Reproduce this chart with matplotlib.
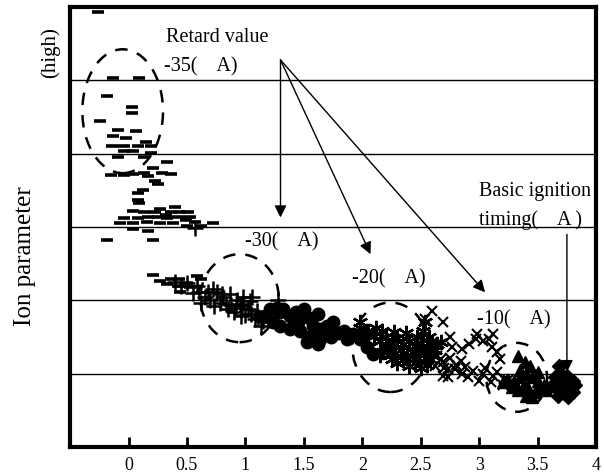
import matplotlib.pyplot as plt
from matplotlib.patches import Ellipse

plt.rcParams['font.family'] = ['Liberation Serif', 'DejaVu Serif']

# retard -35 (dash markers)
dash_x = [-0.26, -0.13, 0.09, -0.18, 0.03, 0.03, -0.24, -0.09, 0.06, -0.13, -0.02, 0.15,
          -0.14, -0.04, 0.08, 0.19, -0.04, 0.04, 0.19, -0.09, 0.13, 0.33, -0.15, -0.04,
          0.04, 0.13, 0.21, 0.29, 0.36, 0.17, 0.23, 0.25, 0.12, 0.08, 0.08, 0.09, 0.04,
          0.13, 0.27, 0.36, 0.44, 0.51, -0.04, 0.08, 0.17, 0.25, 0.33, 0.42, 0.53, -0.07,
          0.04, 0.16, 0.27, 0.38, 0.50, 0.62, 0.72, 0.04, 0.17, -0.18, 0.21, 0.32, 0.49,
          0.57, 0.40, 0.23,
          0.21, 0.27, 0.36, 0.43, 0.33, 0.42, 0.50, 0.59, 0.62, 0.44, 0.53]
dash_y = [5.93, 5.03, 5.03, 4.79, 4.64, 4.56, 4.44, 4.33, 4.31, 4.24, 4.22, 4.16,
          4.11, 4.10, 4.10, 4.11, 4.04, 4.04, 4.01, 3.96, 3.96, 3.89, 3.71, 3.71,
          3.73, 3.74, 3.80, 3.74, 3.73, 3.69, 3.63, 3.59, 3.50, 3.47, 3.37, 3.33, 3.22,
          3.21, 3.25, 3.21, 3.21, 3.20, 3.13, 3.13, 3.14, 3.14, 3.13, 3.14, 3.14, 3.06,
          3.06, 3.07, 3.06, 3.05, 3.02, 3.02, 3.05, 2.98, 2.94, 2.83, 2.82, 3.17, 3.10,
          3.07, 3.27, 3.20,
          2.34, 2.26, 2.29, 2.29, 2.22, 2.19, 2.24, 2.33, 2.29, 2.12, 2.18]

# retard -30 (plus markers)
plus_x = [0.50, 0.59, 0.68, 0.76, 0.81, 0.87, 0.93, 0.98, 1.04, 1.06, 1.02, 0.96, 1.11,
          1.13, 0.62, 0.73, 0.85, 0.90, 1.28, 0.57, 0.55, 0.65, 0.70, 0.78, 0.83, 0.88,
          0.92, 0.97, 1.00, 1.05, 1.08, 0.45, 0.40, 0.72, 0.95, 1.10, 1.15, 0.60, 0.80]
plus_y = [2.24, 2.19, 2.11, 2.12, 2.05, 2.08, 2.01, 2.04, 1.99, 2.05, 1.88, 1.78, 1.77,
          1.65, 1.97, 1.92, 1.88, 1.84, 2.01, 2.99, 2.10, 2.05, 2.00, 1.97, 1.95, 1.93,
          1.90, 1.92, 1.80, 1.82, 1.75, 2.20, 2.25, 2.15, 1.95, 1.85, 1.72, 2.12, 2.08]

# retard -25 (circles)
circ_x = [1.21, 1.27, 1.30, 1.32, 1.15, 1.24, 1.30, 1.38, 1.43, 1.50, 1.53, 1.45, 1.62,
          1.58, 1.64, 1.70, 1.75, 1.79, 1.84, 1.90, 1.87, 1.47, 1.38, 1.56, 1.64, 1.73,
          1.53, 1.62, 2.09, 2.04, 1.98, 1.92]
circ_y = [1.88, 1.90, 1.84, 1.88, 1.77, 1.70, 1.65, 1.78, 1.84, 1.88, 1.77, 1.70, 1.81,
          1.65, 1.61, 1.65, 1.70, 1.56, 1.58, 1.51, 1.47, 1.58, 1.61, 1.51, 1.47, 1.50,
          1.43, 1.40, 1.27, 1.37, 1.47, 1.54]

# retard -20 (asterisks)
ast_x = [1.98, 2.17, 2.03, 2.52, 2.54, 2.64, 2.67, 2.15, 2.20, 2.25, 2.30, 2.35, 2.40,
         2.45, 2.50, 2.55, 2.60, 2.18, 2.23, 2.28, 2.33, 2.38, 2.43, 2.48, 2.53, 2.58,
         2.25, 2.30, 2.35, 2.40, 2.45, 2.50, 2.55, 2.60, 2.20, 2.10, 2.05, 2.12, 1.98,
         2.00, 2.15, 2.62, 2.57, 2.47, 2.37, 2.27]
ast_y = [1.71, 1.58, 1.54, 1.58, 1.70, 1.40, 1.43, 1.45, 1.50, 1.42, 1.48, 1.40, 1.45,
         1.38, 1.42, 1.35, 1.40, 1.30, 1.35, 1.28, 1.32, 1.25, 1.30, 1.22, 1.28, 1.20,
         1.20, 1.15, 1.18, 1.10, 1.15, 1.08, 1.12, 1.25, 1.38, 1.52, 1.58, 1.62, 1.62,
         1.55, 1.25, 1.32, 1.50, 1.50, 1.55, 1.57]

# retard -15 (crosses)
cross_x = [2.60, 2.54, 2.69, 2.75, 2.77, 2.85, 2.91, 2.97, 2.98, 3.03, 3.08, 3.12, 3.11,
           3.15, 3.18, 2.67, 2.69, 2.75, 2.84, 2.73, 2.79, 2.88, 2.95, 3.03, 3.12, 3.21,
           2.52, 2.58, 2.64, 2.69, 2.73, 3.00, 3.10, 3.20, 3.25, 2.85, 2.90, 3.15, 3.05,
           2.80, 2.70, 2.62]
cross_y = [1.86, 1.74, 1.71, 1.50, 1.36, 1.33, 1.40, 1.47, 1.54, 1.44, 1.47, 1.54, 1.36,
           1.29, 1.20, 1.20, 1.16, 1.22, 1.17, 0.95, 1.06, 1.09, 1.03, 0.99, 0.97, 0.93,
           1.31, 1.29, 1.24, 0.97, 1.06, 0.90, 0.88, 0.85, 0.92, 1.00, 0.95, 1.02, 1.08,
           1.12, 1.08, 1.10]

# retard -10 (triangles)
tri_x = [3.33, 3.39, 3.35, 3.40, 3.45, 3.50, 3.55, 3.30, 3.38, 3.42, 3.48, 3.52, 3.33,
         3.40, 3.45, 3.35, 3.25, 3.20, 3.57, 3.50, 3.43, 3.28]
tri_y = [1.24, 1.16, 1.05, 1.00, 0.95, 0.90, 0.85, 0.90, 0.85, 0.80, 0.75, 0.80, 0.78,
         0.70, 0.68, 0.95, 0.92, 0.88, 0.78, 1.02, 1.10, 0.82]

# basic ignition timing (diamonds)
dia_x = [3.68, 3.65, 3.70, 3.75, 3.80, 3.72, 3.78, 3.68, 3.63, 3.73, 3.80, 3.67, 3.76,
         3.82, 3.60, 3.70]
dia_y = [1.10, 0.95, 0.92, 0.97, 0.90, 0.85, 0.80, 0.78, 0.85, 0.72, 0.75, 0.70, 0.68,
         0.84, 0.80, 1.00]

xticks = [0, 0.5, 1, 1.5, 2, 2.5, 3, 3.5, 4]
xtick_labels = ['0', '0.5', '1', '1.5', '2', '2.5', '3', '3.5', '4']

fig = plt.figure(figsize=(6.04, 4.75), dpi=100)
ax = fig.add_axes([0.116, 0.059, 0.871, 0.926])

for yy in [1, 2, 3, 4, 5]:
    ax.axhline(yy, color='k', lw=1.0, zorder=1)

ax.plot(dash_x, dash_y, ls='none', marker='_', ms=8, mew=2.6, color='k')
ax.plot(plus_x, plus_y, ls='none', marker='+', ms=11, mew=1.8, color='k')
ax.plot(circ_x, circ_y, ls='none', marker='o', ms=9, color='k')
ax.plot(ast_x, ast_y, ls='none', marker=(6, 2, 0), ms=11, mew=1.7, color='k')
ax.plot(cross_x, cross_y, ls='none', marker='x', ms=7, mew=1.5, color='k')
ax.plot(tri_x, tri_y, ls='none', marker='^', ms=8, color='k')
ax.plot(dia_x, dia_y, ls='none', marker='D', ms=7, color='k')

# dashed circles round each group
for (cx, cy, w, h) in [(-0.05, 4.58, 0.69, 1.69), (0.95, 2.03, 0.67, 1.2),
                       (2.24, 1.36, 0.65, 1.22), (3.32, 0.95, 0.52, 0.94)]:
    ax.add_patch(Ellipse((cx, cy), w, h, fill=False, ls=(0, (5, 4)), lw=1.8,
                         color='k', zorder=3))

fs = 14.5
ax.text(0.32, 5.59, 'Retard value', fontsize=fs, va='center')
ax.text(0.30, 5.18, '-35(    A)', fontsize=fs, va='center')
ax.text(1.0, 2.80, '-30(    A)', fontsize=fs, va='center')
ax.text(1.91, 2.29, '-20(    A)', fontsize=fs, va='center')
ax.text(2.98, 1.74, '-10(    A)', fontsize=fs, va='center')
ax.text(3.00, 3.49, 'Basic ignition', fontsize=fs, va='center')
ax.text(3.00, 3.10, 'timing(    A )', fontsize=fs, va='center')

arw = dict(arrowstyle='-|>', color='k', lw=1.0, mutation_scale=18, shrinkA=0, shrinkB=0)
for tip in [(1.30, 3.13), (2.07, 2.63), (3.05, 2.11)]:
    ax.annotate('', xy=tip, xytext=(1.30, 5.28), arrowprops=arw)
ax.annotate('', xy=(3.75, 1.02), xytext=(3.75, 2.90), arrowprops=arw)

ax.set_xlim(-0.5, 4)
ax.set_ylim(0, 6)
ax.set_xticks(xticks)
ax.set_xticklabels(xtick_labels)
ax.set_yticks([])
ax.tick_params(axis='x', direction='in', length=7, width=2, labelsize=13, pad=7)
for s in ax.spines.values():
    s.set_linewidth(3)

fig.text(0.041, 0.46, 'Ion parameter', rotation=90, fontsize=18, ha='center', va='center')
fig.text(0.083, 0.89, '(high)', rotation=90, fontsize=15, ha='center', va='center')

fig.savefig('out.png', dpi=100)
